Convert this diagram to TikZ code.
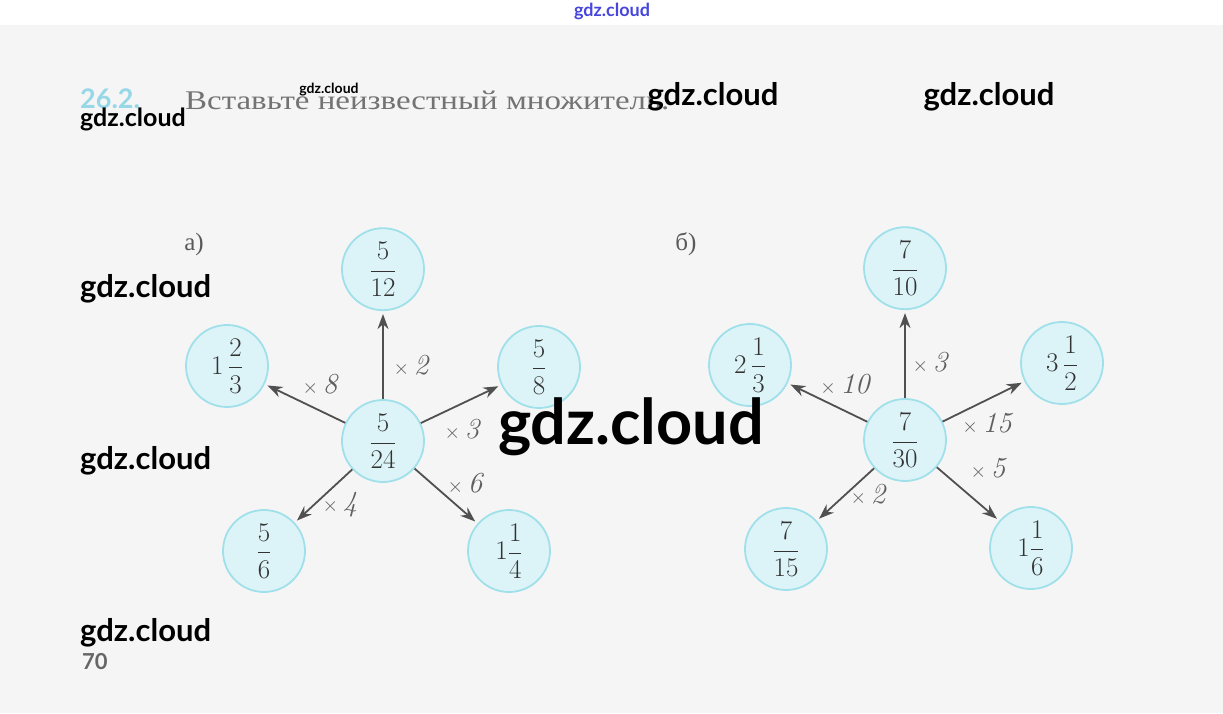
\RequirePackage{fix-cm}
\documentclass[tikz,border=0pt]{standalone}
\usepackage{fontspec}
\usepackage{amsmath}
\usetikzlibrary{arrows.meta,calc,positioning}
\newfontfamily\wmfont{Lato}
\newfontfamily\bookfont{Liberation Serif}
\newfontfamily\taskfont[FakeStretch=1.22]{Liberation Serif}
\definecolor{circfill}{RGB}{220,244,247}
\definecolor{circline}{RGB}{160,224,234}
\definecolor{arrowgray}{RGB}{80,80,80}
\definecolor{handgray}{RGB}{95,95,95}
\definecolor{pagegray}{RGB}{245,245,245}
\definecolor{numcyan}{RGB}{150,215,232}
\definecolor{wmblue}{RGB}{70,70,220}
\newcommand\mult[1]{{\upshape\fontsize{20}{20}\selectfont$\times$}\,#1}
\newcommand\frc[2]{$\dfrac{\text{#1}}{\text{#2}}$}

\begin{document}
\begin{tikzpicture}[
    x=1pt, y=1pt,
    node distance=88pt,
    numcirc/.style={circle, draw=circline, line width=1.8pt, fill=circfill, minimum size=82pt, inner sep=0pt, text=black!80, font=\fontsize{27}{31}\selectfont},
    multarrow/.style={-{Stealth[length=15pt, width=11pt]}, line width=1.8pt, draw=arrowgray, shorten >=3pt},
    multlabel/.style={text=handgray, font=\fontsize{29}{33}\selectfont\itshape},
    partlabel/.style={text=black!65, font=\bookfont\fontsize{25}{29}\selectfont},
    wmark/.style={inner sep=0pt, text=black, font=\wmfont\bfseries\fontsize{#1}{#1}\selectfont}
  ]
  % page
  \fill[pagegray] (0,0) rectangle (1223,688);
  \fill[white] (0,688) rectangle (1223,713);
  \useasboundingbox (0,0) rectangle (1223,713);

  \node[anchor=west, inner sep=0pt, text=numcyan, font=\wmfont\bfseries\fontsize{27}{27}\selectfont] (num) at (80,614) {26.2.};
  \node[anchor=west, inner sep=0pt, text=black!55, font=\taskfont\fontsize{27}{31}\selectfont] (task) at (185,613) {Вставьте неизвестный множитель.};

  % a)
  \node[partlabel] (parta) at (194,469) {а)};
  \node[numcirc] (a0) at (383,272) {\frc{5}{24}};
  \node[numcirc, above=of a0] (a1) {\frc{5}{12}};
  \node[numcirc] (a2) at ($(a0)+(-156,75)$) {1\,\frc{2}{3}};
  \node[numcirc] (a3) at ($(a0)+(156,74)$) {\frc{5}{8}};
  \node[numcirc] (a4) at ($(a0)+(-119,-110)$) {\frc{5}{6}};
  \node[numcirc] (a5) at ($(a0)+(126,-110)$) {1\frc{1}{4}};
  \draw[multarrow] (a0) -- (a1);
  \draw[multarrow] (a0) -- (a2);
  \draw[multarrow] (a0) -- (a3);
  \draw[multarrow] (a0) -- (a4);
  \draw[multarrow] (a0) -- (a5);
  \node[multlabel] (ma1) at (411,347) {\mult{2}};
  \node[multlabel] (ma2) at (320,328) {\mult{8}};
  \node[multlabel] (ma3) at (462,283) {\mult{3}};
  \node[multlabel] (ma4) at (340,208) {\mult{4}};
  \node[multlabel] (ma5) at (465,229) {\mult{6}};

  % b)
  \node[partlabel] (partb) at (686,469) {б)};
  \node[numcirc] (b0) at (905,273) {\frc{7}{30}};
  \node[numcirc, above=of b0] (b1) {\frc{7}{10}};
  \node[numcirc] (b2) at ($(b0)+(-155,75)$) {2\,\frc{1}{3}};
  \node[numcirc] (b3) at ($(b0)+(157,77)$) {3\,\frc{1}{2}};
  \node[numcirc] (b4) at ($(b0)+(-119,-109)$) {\frc{7}{15}};
  \node[numcirc] (b5) at ($(b0)+(126,-108)$) {1\frc{1}{6}};
  \draw[multarrow] (b0) -- (b1);
  \draw[multarrow] (b0) -- (b2);
  \draw[multarrow] (b0) -- (b3);
  \draw[multarrow] (b0) -- (b4);
  \draw[multarrow] (b0) -- (b5);
  \node[multlabel] (mb1) at (930,350) {\mult{3}};
  \node[multlabel] (mb2) at (845,328) {\mult{10}};
  \node[multlabel] (mb3) at (987,289) {\mult{15}};
  \node[multlabel] (mb4) at (868,218) {\mult{2}};
  \node[multlabel] (mb5) at (988,244) {\mult{5}};

  % watermarks
  \node[wmark=18, text=wmblue] (wm0) at (612,702) {gdz.cloud};
  \node[wmark=14] (wm1) at (329,623) {gdz.cloud};
  \node[wmark=25, anchor=west] (wm2) at (80,594) {gdz.cloud};
  \node[wmark=31] (wm3) at (713,616) {gdz.cloud};
  \node[wmark=31] (wm4) at (989,616) {gdz.cloud};
  \node[wmark=31, anchor=west] (wm5) at (80,424) {gdz.cloud};
  \node[wmark=31, anchor=west] (wm6) at (80,252) {gdz.cloud};
  \node[wmark=31, anchor=west] (wm7) at (80,80) {gdz.cloud};
  \node[wmark=63] (wm8) at (631,286) {gdz.cloud};
  \node[wmark=22, anchor=west, text=black!60] (page) at (82,51) {70};
\end{tikzpicture}
\end{document}
